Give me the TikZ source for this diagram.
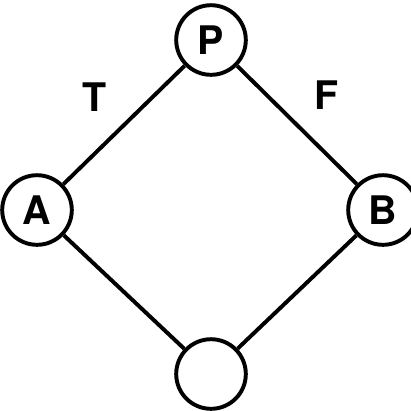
\documentclass[tikz,border=0pt]{standalone}
\usepackage{fontspec}
\setsansfont{TeX Gyre Heros}
\tikzset{state/.style={draw,circle,line width=2.8pt,minimum size=1.74cm,inner sep=0pt,font=\sffamily\bfseries\fontsize{28}{28}\selectfont},
  edge/.style={line width=2.8pt}}

\begin{document}
\begin{tikzpicture}[x=0.025cm,y=-0.025cm]
\useasboundingbox (0,0) rectangle (411,410);
\node[state] (P) at (211,40) {P};
\node[state] (A) at (37,210) {A};
\node[state] (B) at (383,210) {B};
\node[state] (D) at (211,374) {};
\draw[edge] (P)--(A); \draw[edge] (A)--(D);
\draw[edge] (D)--(B); \draw[edge] (B)--(P);
\foreach \n/\x/\y in {T/95/97,F/327/95}{\node[font=\sffamily\bfseries\fontsize{28}{28}\selectfont] (\n) at (\x,\y) {\n};}
\end{tikzpicture}
\end{document}
